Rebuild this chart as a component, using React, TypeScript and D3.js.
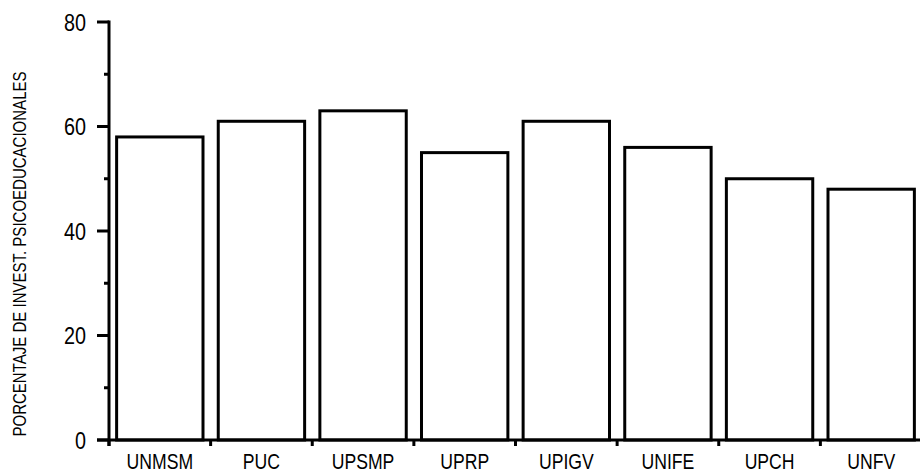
import * as d3 from "d3";

const universities = ["UNMSM", "PUC", "UPSMP", "UPRP", "UPIGV", "UNIFE", "UPCH", "UNFV"];
const percentages = [58, 61, 63, 55, 61, 56, 50, 48];
const majorTicks = [0, 20, 40, 60, 80];
const minorTicks = [10, 30, 50, 70];
const yTitle = "PORCENTAJE DE INVEST. PSICOEDUCACIONALES";

export default function App() {
  const width = 920;
  const height = 474;
  const left = 109;
  const baseline = 440;
  const font = "'Liberation Sans', Arial, Helvetica, sans-serif";

  const x = d3
    .scaleBand<string>()
    .domain(universities)
    .range([left, left + 813])
    .paddingInner(0.15)
    .paddingOuter(0.075);
  const y = d3.scaleLinear().domain([0, 80]).range([baseline, 22]);

  const gap = (x.step() - x.bandwidth()) / 2;
  const bounds = universities.map((u) => (x(u) ?? 0) - gap);

  return (
    <svg
      width={width}
      height={height}
      style={{ position: "absolute", left: 0, top: 0, background: "#fff" }}
    >
      {/* bars */}
      <g fill="#fff" stroke="#000" strokeWidth={3}>
        {universities.map((u, i) => (
          <rect
            key={u}
            x={x(u)}
            y={y(percentages[i])}
            width={x.bandwidth()}
            height={baseline - y(percentages[i])}
          />
        ))}
      </g>

      {/* y axis */}
      <g stroke="#000" strokeWidth={3}>
        <line x1={left} x2={left} y1={y(80) - 1.5} y2={baseline + 6} />
        {majorTicks.map((t) => (
          <line key={t} x1={left - 12} x2={left} y1={y(t)} y2={y(t)} />
        ))}
        {minorTicks.map((t) => (
          <line key={t} x1={left - 5} x2={left} y1={y(t)} y2={y(t)} />
        ))}
      </g>
      <g fontFamily={font} fontSize={23} fill="#000">
        {majorTicks.map((t) => (
          <g key={t} transform={`translate(86,${y(t) + 8.5}) scale(0.86,1)`}>
            <text textAnchor="end">{t}</text>
          </g>
        ))}
      </g>

      {/* x axis */}
      <g stroke="#000" strokeWidth={3}>
        <line x1={left - 12} x2={width} y1={baseline} y2={baseline} />
        {bounds.map((b, i) => (
          <line key={i} x1={b} x2={b} y1={baseline} y2={baseline + 6} />
        ))}
      </g>
      <g fontFamily={font} fontSize={22} fill="#000">
        {universities.map((u) => (
          <g
            key={u}
            transform={`translate(${(x(u) ?? 0) + x.bandwidth() / 2},469) scale(0.8,1)`}
          >
            <text textAnchor="middle">{u}</text>
          </g>
        ))}
      </g>

      {/* y title */}
      <text
        transform="translate(26,254) rotate(-90)"
        textAnchor="middle"
        fontFamily={font}
        fontSize={18}
        textLength={365}
        lengthAdjust="spacingAndGlyphs"
      >
        {yTitle}
      </text>
    </svg>
  );
}
